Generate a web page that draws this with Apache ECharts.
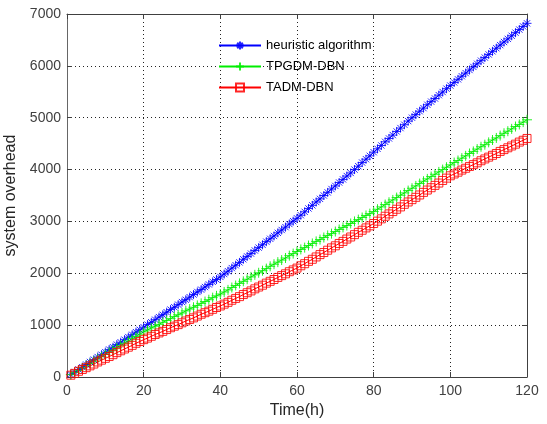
<!DOCTYPE html>
<html>
<head>
<meta charset="utf-8">
<script src="https://cdn.jsdelivr.net/npm/echarts@6/dist/echarts.min.js"></script>
<style>html,body{margin:0;padding:0;background:#fff;}#c{width:547px;height:424px;}</style>
</head>
<body>
<div id="c"></div>
<script>
const seriesNames = ['heuristic algorithm', 'TPGDM-DBN', 'TADM-DBN'];
const timeH = Array.from({length: 120}, (_, i) => i + 1);
const xTicks = [0, 20, 40, 60, 80, 100, 120];
const yTicks = [0, 1000, 2000, 3000, 4000, 5000, 6000, 7000];

const heuristic = [
  50, 95, 145, 190, 240, 290, 335, 385, 430, 480,
  530, 575, 625, 670, 720, 770, 815, 865, 910, 960,
  1010, 1055, 1105, 1155, 1200, 1250, 1300, 1345, 1395, 1445,
  1490, 1540, 1590, 1640, 1685, 1735, 1785, 1835, 1880, 1930,
  1985, 2040, 2100, 2155, 2210, 2270, 2325, 2380, 2440, 2495,
  2550, 2610, 2665, 2720, 2780, 2835, 2890, 2950, 3005, 3060,
  3120, 3185, 3250, 3310, 3375, 3435, 3500, 3560, 3625, 3685,
  3750, 3810, 3875, 3935, 4000, 4065, 4135, 4200, 4265, 4335,
  4400, 4465, 4535, 4600, 4665, 4735, 4800, 4865, 4935, 5000,
  5060, 5125, 5185, 5250, 5310, 5370, 5435, 5495, 5560, 5620,
  5680, 5740, 5800, 5860, 5920, 5980, 6040, 6100, 6160, 6220,
  6280, 6340, 6400, 6460, 6520, 6580, 6640, 6700, 6760, 6820
];
const tpgdm = [
  45, 90, 130, 175, 220, 260, 305, 350, 390, 435,
  480, 520, 565, 610, 650, 695, 740, 780, 825, 870,
  905, 945, 980, 1015, 1055, 1090, 1125, 1165, 1200, 1235,
  1275, 1310, 1345, 1380, 1420, 1455, 1490, 1530, 1565, 1600,
  1640, 1680, 1725, 1765, 1805, 1845, 1885, 1930, 1970, 2010,
  2050, 2090, 2135, 2175, 2215, 2255, 2295, 2340, 2380, 2420,
  2460, 2495, 2535, 2575, 2615, 2650, 2690, 2730, 2765, 2805,
  2845, 2885, 2920, 2960, 3000, 3035, 3075, 3115, 3150, 3190,
  3235, 3280, 3325, 3370, 3415, 3460, 3505, 3550, 3595, 3640,
  3685, 3730, 3775, 3820, 3865, 3910, 3955, 4000, 4045, 4090,
  4135, 4175, 4220, 4265, 4310, 4350, 4395, 4440, 4480, 4525,
  4570, 4610, 4655, 4700, 4740, 4785, 4830, 4870, 4915, 4960
];
const tadm = [
  35, 70, 110, 145, 180, 215, 250, 290, 325, 360,
  395, 430, 470, 505, 540, 575, 610, 650, 685, 720,
  750, 785, 820, 850, 880, 915, 950, 980, 1010, 1045,
  1080, 1110, 1140, 1175, 1210, 1240, 1270, 1305, 1340, 1370,
  1405, 1440, 1480, 1515, 1550, 1590, 1625, 1660, 1700, 1735,
  1770, 1810, 1845, 1880, 1920, 1955, 1990, 2030, 2065, 2100,
  2145, 2185, 2230, 2270, 2315, 2360, 2400, 2445, 2490, 2530,
  2575, 2615, 2660, 2700, 2745, 2790, 2830, 2875, 2915, 2960,
  3005, 3050, 3100, 3145, 3190, 3235, 3280, 3330, 3375, 3420,
  3465, 3510, 3560, 3605, 3650, 3695, 3740, 3790, 3835, 3880,
  3915, 3950, 3990, 4025, 4060, 4095, 4130, 4170, 4205, 4240,
  4275, 4310, 4350, 4385, 4420, 4455, 4490, 4530, 4565, 4600
];

const pair = (ys) => timeH.map((x, i) => [x, ys[i]]);
const star = 'path://M0,-5L0,5M-5,0L5,0M-3.5,-3.5L3.5,3.5M-3.5,3.5L3.5,-3.5';
const plus = 'path://M0,-5L0,5M-5,0L5,0';
const square = 'path://M0,0L10,0L10,10L0,10Z';
const axisCol = '#404040';
const font = 'Liberation Sans, Arial, Helvetica, sans-serif';

const chart = echarts.init(document.getElementById('c'), null, {renderer: 'canvas'});
const mkSeries = (name, data, color, symbol, size) => ({
  name, type: 'line', data: pair(data), symbol, symbolSize: size,
  showAllSymbol: true,
  lineStyle: {color, width: 1},
  itemStyle: {color: 'none', borderColor: color, borderWidth: 1, opacity: 0.85},
  emphasis: {disabled: true},
  animation: false
});
chart.setOption({
  animation: false,
  backgroundColor: '#fff',
  grid: {left: 67, right: 20, top: 14, bottom: 47, outerBoundsMode: 'none', containLabel: false},
  legend: {
    orient: 'vertical', left: 213, top: 34, itemWidth: 42, itemHeight: 10, itemGap: 8,
    textStyle: {fontSize: 13, color: '#000', fontFamily: font},
    data: seriesNames
  },
  xAxis: [{
    type: 'value', min: xTicks[0], max: xTicks[xTicks.length - 1], interval: 20,
    name: 'Time(h)', nameLocation: 'middle', nameGap: 26,
    nameTextStyle: {fontSize: 16, color: '#262626', fontFamily: font},
    axisLine: {lineStyle: {color: axisCol}},
    axisTick: {inside: true, length: 5, lineStyle: {color: axisCol}},
    axisLabel: {fontSize: 14, color: '#404040', fontFamily: font, margin: 7},
    splitLine: {show: true, lineStyle: {color: '#222', type: [1, 3]}}
  }, {
    type: 'value', position: 'top', min: 0, max: 120, interval: 20,
    axisLine: {show: true, onZero: false, lineStyle: {color: axisCol}},
    axisTick: {inside: true, length: 5, lineStyle: {color: axisCol}},
    axisLabel: {show: false}, splitLine: {show: false}
  }],
  yAxis: [{
    type: 'value', min: yTicks[0], max: yTicks[yTicks.length - 1], interval: 1000,
    name: 'system overhead', nameLocation: 'middle', nameGap: 44,
    nameTextStyle: {fontSize: 16, color: '#262626', fontFamily: font},
    axisLine: {show: true, lineStyle: {color: '#666'}},
    axisTick: {show: true, inside: true, length: 5, lineStyle: {color: axisCol}},
    axisLabel: {fontSize: 14, color: '#404040', fontFamily: font, margin: 6, formatter: (v) => String(v)},
    splitLine: {show: true, lineStyle: {color: '#222', type: [1, 3]}}
  }, {
    type: 'value', position: 'right', min: 0, max: 7000, interval: 1000,
    axisLine: {show: true, onZero: false, lineStyle: {color: axisCol}},
    axisTick: {show: true, inside: true, length: 5, lineStyle: {color: axisCol}},
    axisLabel: {show: false}, splitLine: {show: false}
  }],
  series: [
    mkSeries(seriesNames[0], heuristic, '#0000ff', star, 9),
    mkSeries(seriesNames[1], tpgdm, '#00ee00', plus, 10),
    mkSeries(seriesNames[2], tadm, '#ff0000', square, 8)
  ]
});
</script>
</body>
</html>
